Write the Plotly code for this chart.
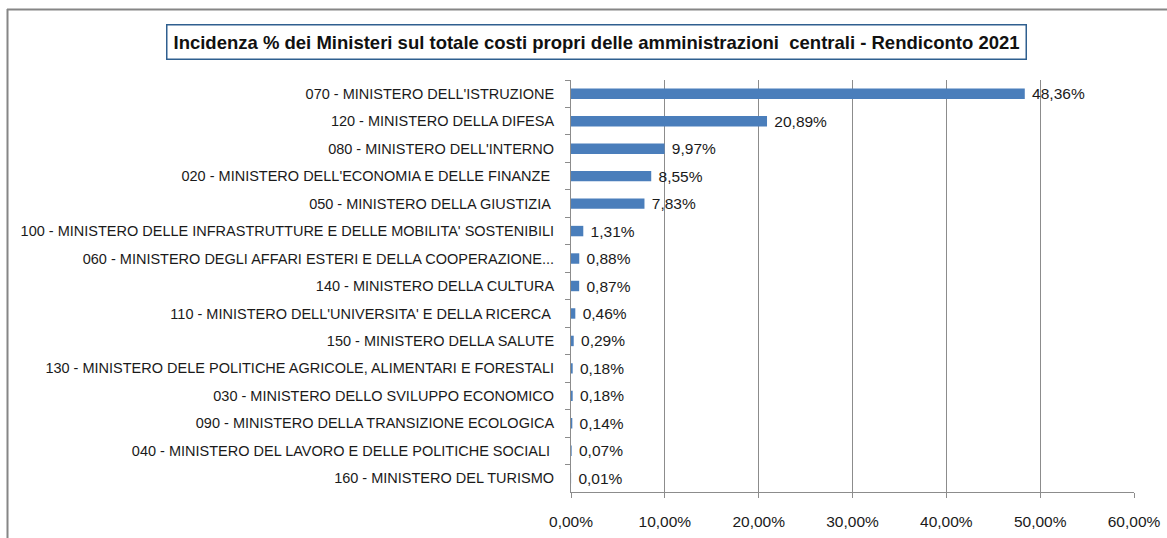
import plotly.graph_objects as go

categories = [
    "070 - MINISTERO DELL'ISTRUZIONE",
    "120 - MINISTERO DELLA DIFESA",
    "080 - MINISTERO DELL'INTERNO",
    "020 - MINISTERO DELL'ECONOMIA E DELLE FINANZE ",
    "050 - MINISTERO DELLA GIUSTIZIA ",
    "100 - MINISTERO DELLE INFRASTRUTTURE E DELLE MOBILITA' SOSTENIBILI",
    "060 - MINISTERO DEGLI AFFARI ESTERI E DELLA COOPERAZIONE...",
    "140 - MINISTERO DELLA CULTURA",
    "110 - MINISTERO DELL'UNIVERSITA' E DELLA RICERCA ",
    "150 - MINISTERO DELLA SALUTE",
    "130 - MINISTERO DELE POLITICHE AGRICOLE, ALIMENTARI E FORESTALI",
    "030 - MINISTERO DELLO SVILUPPO ECONOMICO",
    "090 - MINISTERO DELLA TRANSIZIONE ECOLOGICA",
    "040 - MINISTERO DEL LAVORO E DELLE POLITICHE SOCIALI ",
    "160 - MINISTERO DEL TURISMO",
]
values_pct = [48.36, 20.89, 9.97, 8.55, 7.83, 1.31, 0.88, 0.87, 0.46, 0.29, 0.18, 0.18, 0.14, 0.07, 0.01]
x_ticks_pct = [0, 10, 20, 30, 40, 50, 60]

FONT = "Liberation Sans Narrow, Arial Narrow, Liberation Sans, Arial, sans-serif"

# plot-area pixel geometry
W, H = 1167, 538
L, R, T, B = 571, 1134, 80, 492
pw, ph = R - L, B - T

def px(xp):
    return (xp - L) / pw

def py(yp):
    return (B - yp) / ph

labels = ["\u00a0" + f"{v:.2f}".replace(".", ",") + "%" for v in values_pct]

fig = go.Figure(go.Bar(
    y=categories,
    x=[v / 100 for v in values_pct],
    orientation="h",
    marker=dict(color="#4a7ebb", line=dict(width=0)),
    text=labels,
    textposition="outside",
    constraintext="none",
    textfont=dict(family=FONT, size=15.5, color="#1a1a1a"),
    cliponaxis=False,
    hoverinfo="skip",
))

fig.update_layout(
    width=W, height=H,
    margin=dict(l=L, r=W - R, t=T, b=H - B, pad=0),
    paper_bgcolor="white",
    plot_bgcolor="white",
    separators=",.",
    bargap=0.62,
    showlegend=False,
    font=dict(family=FONT, size=15, color="#1a1a1a"),
    xaxis=dict(
        range=[0, 0.6],
        tickvals=[t / 100 for t in x_ticks_pct],
        tickformat=".2%",
        showgrid=True, gridcolor="#8c8c8c", gridwidth=1,
        showline=True, linecolor="#8c8c8c", linewidth=1,
        ticks="outside", ticklen=5, tickcolor="#8c8c8c",
        ticklabelstandoff=10,
        zeroline=False,
        automargin=False,
        tickfont=dict(family=FONT, size=15.5, color="#1a1a1a"),
        fixedrange=True,
    ),
    yaxis=dict(
        categoryorder="array", categoryarray=categories,
        autorange="reversed",
        showline=True, linecolor="#8c8c8c", linewidth=1,
        ticks="outside", ticklen=5, tickcolor="#8c8c8c",
        tickson="boundaries",
        ticklabelstandoff=13,
        showgrid=False,
        automargin=False,
        tickfont=dict(family=FONT, size=14.5, color="#1a1a1a"),
        fixedrange=True,
    ),
)

# title box
fig.add_annotation(
    text="<b>Incidenza % dei Ministeri sul totale costi propri delle amministrazioni  centrali - Rendiconto 2021</b>",
    xref="paper", yref="paper",
    x=px(596), y=py(41.5),
    xanchor="center", yanchor="middle",
    showarrow=False,
    font=dict(family=FONT, size=18.5, color="#111111"),
    bordercolor="#2f5f8f", borderwidth=1.5, borderpad=6,
    bgcolor="white",
)

# outer chart frame (top and left edges)
fig.add_shape(type="line", xref="paper", yref="paper",
              x0=px(7), x1=px(1170), y0=py(9.5), y1=py(9.5),
              line=dict(color="#868686", width=2))
fig.add_shape(type="line", xref="paper", yref="paper",
              x0=px(7.5), x1=px(7.5), y0=py(9), y1=py(545),
              line=dict(color="#868686", width=2))

fig.write_html(
    "out.html",
    config={"displayModeBar": False, "staticPlot": True},
    post_script="document.body.style.margin='0';document.body.style.overflow='hidden';",
)
